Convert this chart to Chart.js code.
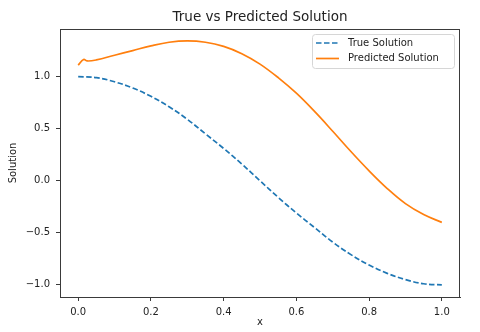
<!DOCTYPE html>
<html>
<head>
<meta charset="utf-8">
<script src="https://cdn.jsdelivr.net/npm/chart.js@4.4.1/dist/chart.umd.min.js"></script>
<style>
  html, body { margin: 0; padding: 0; background: #fff; }
  #chart { display: block; }
</style>
</head>
<body>
<canvas id="chart" width="480" height="332"></canvas>
<script>
// ============ DATA ============
const trueX = [0, 0.05, 0.1, 0.15, 0.2, 0.25, 0.3, 0.35, 0.4, 0.45, 0.5,
               0.55, 0.6, 0.65, 0.7, 0.75, 0.8, 0.85, 0.9, 0.95, 1.0];
const trueY = [1.0, 0.99, 0.95, 0.89, 0.81, 0.71, 0.59, 0.45, 0.31, 0.16, 0.0,
               -0.16, -0.31, -0.45, -0.59, -0.71, -0.81, -0.89, -0.95, -0.99, -1.0];

const predX = [0, 0.015, 0.025, 0.05, 0.1, 0.15, 0.2, 0.25, 0.3, 0.35, 0.4, 0.45, 0.5,
               0.55, 0.6, 0.65, 0.7, 0.75, 0.8, 0.85, 0.9, 0.95, 1.0];
const predY = [1.11, 1.165, 1.15, 1.16, 1.205, 1.25, 1.295, 1.33, 1.343, 1.33, 1.29, 1.22, 1.12,
               0.99, 0.84, 0.665, 0.475, 0.28, 0.095, -0.075, -0.22, -0.325, -0.40];

const xTicks = [0.0, 0.2, 0.4, 0.6, 0.8, 1.0];
const yTicks = [-1.0, -0.5, 0.0, 0.5, 1.0];

const chartTitle = 'True vs Predicted Solution';

// ============ STYLE ============
const FONT = "'DejaVu Sans', 'Liberation Sans', sans-serif";
const INK = '#222';
const AXIS = '#3a3a3a';

const toPoints = (xs, ys) => xs.map((x, i) => ({ x: x, y: ys[i] }));
const fmt = v => v.toFixed(1).replace('-', '\u2212');

// frame on all four sides (matplotlib spines) + title centred over the axes
const frame = {
    id: 'frame',
    afterDraw(chart) {
        const { ctx, chartArea: a } = chart;
        ctx.save();
        ctx.strokeStyle = AXIS;
        ctx.lineWidth = 1;
        ctx.strokeRect(Math.round(a.left) + 0.5, Math.round(a.top) + 0.5,
                       Math.round(a.right - a.left) - 1, Math.round(a.bottom - a.top));

        ctx.font = '13.5px ' + FONT;
        ctx.fillStyle = INK;
        ctx.textAlign = 'center';
        ctx.textBaseline = 'middle';
        ctx.fillText(chartTitle, (a.left + a.right) / 2, a.top - 12);
        ctx.restore();
    }
};

// legend drawn inside the axes, upper right
const insideLegend = {
    id: 'insideLegend',
    afterDraw(chart) {
        const { ctx, chartArea: a } = chart;
        const w = 142, h = 34;
        const x0 = a.right - 6 - w, y0 = a.top + 5;
        ctx.save();
        ctx.beginPath();
        if (ctx.roundRect) ctx.roundRect(x0 + 0.5, y0 + 0.5, w, h, 3);
        else ctx.rect(x0 + 0.5, y0 + 0.5, w, h);
        ctx.fillStyle = 'rgba(255,255,255,0.85)';
        ctx.fill();
        ctx.strokeStyle = '#d6d6d6';
        ctx.lineWidth = 1;
        ctx.stroke();

        ctx.font = '10px ' + FONT;
        ctx.textBaseline = 'middle';
        chart.data.datasets.forEach((ds, i) => {
            const cy = y0 + 9 + i * 15.5;
            ctx.beginPath();
            ctx.setLineDash(ds.borderDash || []);
            ctx.strokeStyle = ds.borderColor;
            ctx.lineWidth = ds.borderWidth;
            ctx.moveTo(x0 + 4, cy);
            ctx.lineTo(x0 + 27, cy);
            ctx.stroke();
            ctx.setLineDash([]);
            ctx.fillStyle = INK;
            ctx.fillText(ds.label, x0 + 36, cy);
        });
        ctx.restore();
    }
};

const ctx = document.getElementById('chart').getContext('2d');
new Chart(ctx, {
    type: 'line',
    data: {
        datasets: [
            {
                label: 'True Solution',
                data: toPoints(trueX, trueY),
                borderColor: '#1f77b4',
                borderWidth: 1.7,
                borderDash: [5.5, 2.5],
                pointRadius: 0,
                tension: 0.4,
                fill: false
            },
            {
                label: 'Predicted Solution',
                data: toPoints(predX, predY),
                borderColor: '#ff7f0e',
                borderWidth: 1.7,
                pointRadius: 0,
                tension: 0.4,
                fill: false
            }
        ]
    },
    options: {
        responsive: false,
        animation: false,
        events: [],
        layout: { padding: { top: 29, right: 20, bottom: 0, left: 0 } },
        plugins: {
            legend: { display: false },
            tooltip: { enabled: false },
            title: { display: false }
        },
        scales: {
            x: {
                type: 'linear',
                min: -0.05,
                max: 1.05,
                afterBuildTicks: s => { s.ticks = xTicks.map(v => ({ value: v })); },
                afterFit: s => { s.height = 35; },
                border: { display: true, color: AXIS, width: 1 },
                grid: { drawOnChartArea: false, drawTicks: true, tickLength: 4, color: AXIS },
                ticks: {
                    color: INK,
                    font: { family: FONT, size: 10 },
                    padding: 5,
                    maxRotation: 0,
                    callback: v => fmt(v)
                },
                title: {
                    display: true,
                    text: 'x',
                    color: INK,
                    font: { family: FONT, size: 10 },
                    padding: { top: 0, bottom: 4 }
                }
            },
            y: {
                type: 'linear',
                min: -1.117,
                max: 1.457,
                afterBuildTicks: s => { s.ticks = yTicks.map(v => ({ value: v })); },
                afterFit: s => { s.width = 60; },
                border: { display: true, color: AXIS, width: 1 },
                grid: { drawOnChartArea: false, drawTicks: true, tickLength: 4, color: AXIS },
                ticks: {
                    color: INK,
                    font: { family: FONT, size: 10 },
                    padding: 6,
                    callback: v => fmt(v)
                },
                title: {
                    display: true,
                    text: 'Solution',
                    color: INK,
                    font: { family: FONT, size: 10 },
                    padding: { top: 7, bottom: 0 }
                }
            }
        }
    },
    plugins: [frame, insideLegend]
});
</script>
</body>
</html>
